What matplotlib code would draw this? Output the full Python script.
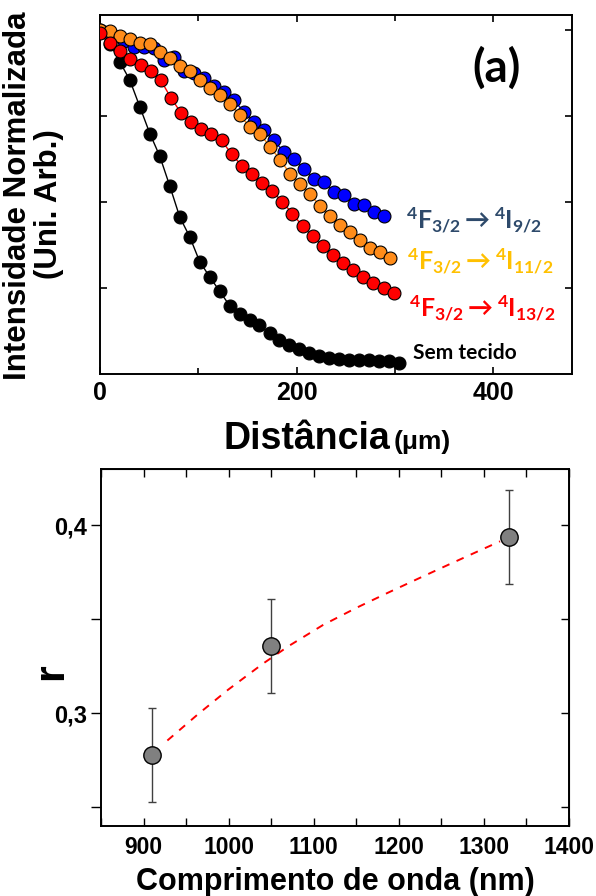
import numpy as np
import matplotlib
matplotlib.use('Agg')
import matplotlib.pyplot as plt
from matplotlib.ticker import MultipleLocator, FuncFormatter

# decay profiles (normalised intensity vs. depth in um)
dist_black = [0, 10.1, 20.3, 30.4, 40.6, 50.7, 60.8, 71.0, 81.1, 91.3, 101.4, 111.5, 121.7, 131.8, 142.0,
              152.1, 162.2, 172.4, 182.5, 192.7, 202.8, 212.9, 223.1, 233.2, 243.4, 253.5, 263.6, 273.8,
              283.9, 294.1, 304.2]
int_black = [1.0, 0.962, 0.908, 0.855, 0.777, 0.700, 0.634, 0.547, 0.457, 0.399, 0.327, 0.283, 0.241, 0.199,
             0.176, 0.157, 0.142, 0.118, 0.099, 0.084, 0.072, 0.060, 0.052, 0.046, 0.043, 0.041, 0.041,
             0.041, 0.039, 0.039, 0.033]

dist_red = [0, 10.3, 20.6, 30.9, 41.2, 51.5, 61.8, 72.1, 82.4, 92.7, 103.0, 113.3, 123.6, 133.9, 144.2,
            154.5, 164.8, 175.1, 185.4, 195.7, 206.0, 216.3, 226.6, 236.9, 247.2, 257.5, 267.8, 278.1,
            288.4, 298.7]
int_red = [0.993, 0.964, 0.940, 0.918, 0.900, 0.881, 0.855, 0.804, 0.760, 0.734, 0.714, 0.700, 0.680, 0.640,
           0.606, 0.581, 0.556, 0.533, 0.501, 0.467, 0.430, 0.401, 0.372, 0.346, 0.322, 0.304, 0.283,
           0.264, 0.249, 0.235]

dist_orange = [0, 10.2, 20.3, 30.5, 40.7, 50.8, 61.0, 71.2, 81.4, 91.5, 101.7, 111.9, 122.0, 132.2, 142.4,
               152.5, 162.7, 172.9, 183.1, 193.2, 203.4, 213.6, 223.7, 233.9, 244.1, 254.2, 264.4, 274.6,
               284.7, 294.9]
int_orange = [1.0, 0.998, 0.983, 0.976, 0.963, 0.961, 0.937, 0.921, 0.898, 0.882, 0.855, 0.833, 0.811, 0.787,
              0.753, 0.719, 0.700, 0.661, 0.624, 0.583, 0.554, 0.525, 0.488, 0.459, 0.433, 0.414, 0.390,
              0.368, 0.356, 0.339]

dist_blue = [4.1, 14.2, 24.4, 34.6, 44.7, 54.9, 65.1, 75.2, 85.4, 95.6, 105.7, 115.9, 126.1, 136.2, 146.4,
             156.6, 166.7, 176.9, 187.1, 197.2, 207.4, 217.6, 227.7, 237.9, 248.1, 258.2, 268.4, 278.6,
             288.7]
int_blue = [0.995, 0.985, 0.970, 0.952, 0.952, 0.950, 0.913, 0.922, 0.881, 0.876, 0.862, 0.837, 0.821, 0.797,
            0.763, 0.734, 0.709, 0.680, 0.646, 0.627, 0.598, 0.569, 0.559, 0.530, 0.522, 0.496, 0.491,
            0.472, 0.459]

# attenuation ratio vs. wavelength
wl = [910, 1050, 1330]
r_val = [0.278, 0.336, 0.394]
r_err = [0.025, 0.025, 0.025]
fit_wl = [928, 964, 999, 1040, 1071, 1111, 1151, 1187, 1223, 1259, 1294, 1319]
fit_r = [0.2855, 0.2995, 0.3124, 0.3263, 0.3359, 0.3470, 0.3563, 0.3641, 0.3717, 0.3792, 0.3864, 0.3915]

plt.rcParams['font.family'] = 'Liberation Sans'
plt.rcParams['font.weight'] = 'bold'
plt.rcParams['mathtext.fontset'] = 'custom'
plt.rcParams['mathtext.rm'] = 'Lato:bold'
plt.rcParams['mathtext.it'] = 'Lato:bold'
plt.rcParams['mathtext.bf'] = 'Lato:bold'

W, H = 596, 896
fig = plt.figure(figsize=(W / 100, H / 100), dpi=100)


def fx(px):
    return px / W


def fy(py):
    return 1 - py / H


# ---- top panel ----
ax = fig.add_axes([fx(100), fy(374), fx(572) - fx(100), fy(15) - fy(374)])
mk = dict(marker='o', ms=9.3, mec='black', mew=0.8, lw=1.0)
ax.plot(dist_black, int_black, color='black', mfc='black', zorder=2, **mk)
ax.plot(dist_blue, int_blue, color='#0000ff', mfc='#0000ff', zorder=3, **mk)
ax.plot(dist_orange, int_orange, color='#ff8c1a', mfc='#ff8c1a', zorder=4, **mk)
ax.plot(dist_red, int_red, color='#ff0000', mfc='#ff0000', zorder=5, **mk)
ax.set_xlim(0, 480)
ax.set_ylim(0, 1.045)
ax.xaxis.set_major_locator(MultipleLocator(200))
ax.xaxis.set_minor_locator(MultipleLocator(100))
ax.set_yticks([0.25, 0.5, 0.75, 1.0])
ax.set_yticklabels([])
ax.tick_params(which='both', direction='in', top=True, right=True, width=1.2)
ax.tick_params(which='major', length=5)
ax.tick_params(which='minor', length=4)
ax.tick_params(axis='x', labelsize=18, pad=5)
for s in ax.spines.values():
    s.set_linewidth(1.4)

fig.text(fx(18), fy(196), 'Intensidade Normalizada', rotation=90, ha='center', va='center',
         fontsize=22.5, fontweight='bold')
fig.text(fx(49), fy(204), '(Uni. Arb.)', rotation=90, ha='center', va='center',
         fontsize=22.5, fontweight='bold')
fig.text(fx(390), fy(449), 'Distância', ha='right', va='baseline', fontsize=27, fontweight='bold')
fig.text(fx(394), fy(449), '(μm)', ha='left', va='baseline', fontsize=19, fontweight='bold')

fig.text(fx(497), fy(68), '(a)', ha='center', va='center', fontsize=33, family='Lato',
         fontweight='bold')
fig.text(fx(406), fy(229), r'$^4$F$_{3/2}$$\rightarrow$$^4$I$_{9/2}$', ha='left', va='baseline',
         fontsize=18, family='Lato', fontweight='bold', color='#2e4a6b')
fig.text(fx(407), fy(270), r'$^4$F$_{3/2}$$\rightarrow$$^4$I$_{11/2}$', ha='left', va='baseline',
         fontsize=18, family='Lato', fontweight='bold', color='#ffc000')
fig.text(fx(409), fy(317), r'$^4$F$_{3/2}$$\rightarrow$$^4$I$_{13/2}$', ha='left', va='baseline',
         fontsize=18, family='Lato', fontweight='bold', color='#ff0000')
fig.text(fx(413), fy(359), 'Sem tecido', ha='left', va='baseline', fontsize=15, family='Lato',
         fontweight='bold', color='black')

# ---- bottom panel ----
bx = fig.add_axes([fx(101), fy(826), fx(569) - fx(101), fy(469) - fy(826)])
bx.plot(fit_wl, fit_r, color='#ff0000', lw=1.4, ls=(0, (4, 4)), zorder=2)
bx.errorbar(wl, r_val, yerr=r_err, fmt='o', ms=12.5, mfc='#808080', mec='black', mew=1.0,
            ecolor='#404040', elinewidth=1.0, capsize=3, capthick=1.0, zorder=3)
bx.set_xlim(850, 1400)
bx.set_ylim(0.24, 0.43)
bx.xaxis.set_major_locator(MultipleLocator(100))
bx.xaxis.set_minor_locator(MultipleLocator(50))
bx.yaxis.set_major_locator(MultipleLocator(0.1))
bx.yaxis.set_minor_locator(MultipleLocator(0.05))
bx.yaxis.set_major_formatter(FuncFormatter(lambda v, p: ('%.1f' % v).replace('.', ',')))
bx.tick_params(axis='x', which='both', direction='in', length=6, width=1.0, labelsize=16.5, pad=7)
bx.tick_params(axis='y', which='both', direction='out', length=7, width=1.0, labelsize=17, pad=3)
for s in bx.spines.values():
    s.set_linewidth(1.4)

top = bx.secondary_xaxis('top')
top.xaxis.set_major_locator(MultipleLocator(50))
top.tick_params(direction='in', length=6, width=1.0, labeltop=False)
right = bx.secondary_yaxis('right')
right.yaxis.set_major_locator(MultipleLocator(0.05))
right.tick_params(direction='in', length=6, width=1.0, labelright=False)

bx.set_xlabel('Comprimento de onda (nm)', fontsize=22, fontweight='bold', labelpad=6)
fig.text(fx(51), fy(672), 'r', rotation=90, ha='center', va='center', fontsize=31, fontweight='bold')

fig.savefig('out.png', dpi=100)
